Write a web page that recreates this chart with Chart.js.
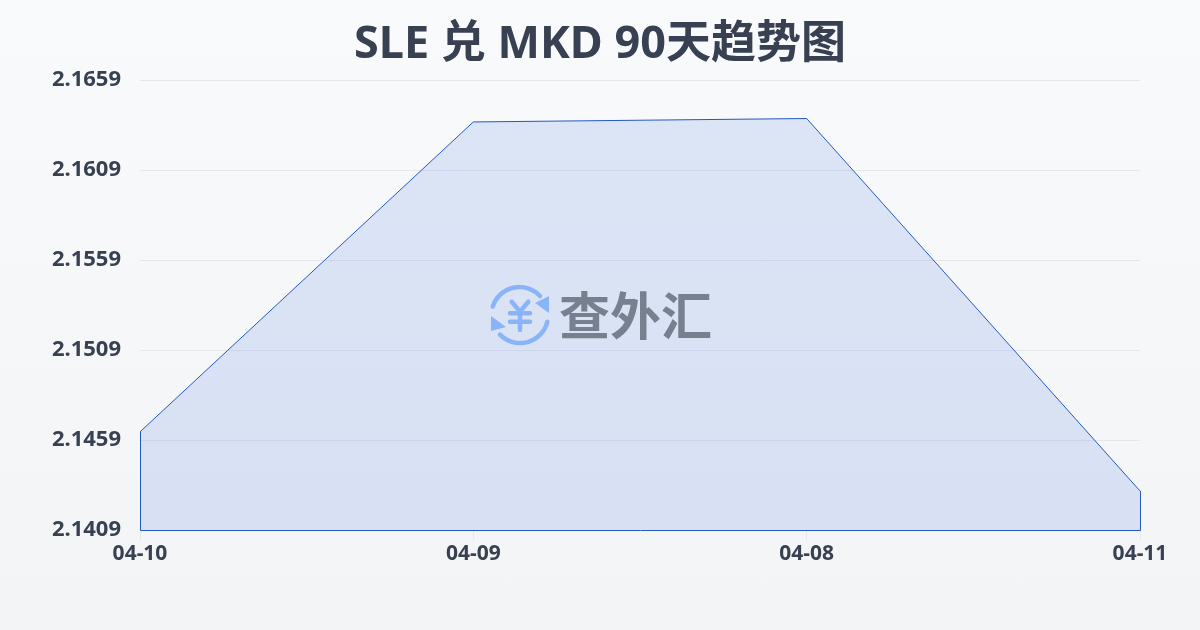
<!DOCTYPE html>
<html><head><meta charset="utf-8">
<style>
html,body{margin:0;padding:0;width:1200px;height:630px;overflow:hidden}
body{background:linear-gradient(180deg,#f9fafb 0%,#f3f4f6 100%);position:relative;font-family:"Noto Sans","Noto Sans CJK SC",sans-serif}
#c{position:absolute;left:0;top:0;width:1200px;height:630px}
#wm{position:absolute;left:488px;top:283px;width:64px;height:64px}
#wmt{position:absolute;left:559px;top:277px;font:700 51px/72px "Noto Sans CJK SC",sans-serif;color:#76808f;white-space:nowrap}
</style></head><body>
<canvas id="c" width="1200" height="630"></canvas>
<svg id="wm" viewBox="0 0 64 64">
 <g fill="none" stroke="#8ab4f8" stroke-width="4.5" stroke-linecap="round" stroke-linejoin="round">
  <path d="M4.7 23.7 A28 28 0 0 1 52 13"/>
  <path d="M59.3 38.7 A28 28 0 0 1 12 51.6"/>
  <path d="M23.7 18.7 L32 28.7 L40.3 18.7 M22 30.3 H42 M22 38.7 H42 M32 28.7 V47"/>
 </g>
 <path d="M61 13 L61 30 L47 20 Z M3 33 L3 48 L18 44 Z" fill="#8ab4f8"/>
</svg>
<div id="wmt">查外汇</div>
<script src="https://cdn.jsdelivr.net/npm/chart.js@4/dist/chart.umd.min.js"></script>
<script>
const categories = ["04-10","04-09","04-08","04-11"];
const rates = [2.14635,2.16357,2.16376,2.14307];
const yTicks = [2.1409,2.1459,2.1509,2.1559,2.1609,2.1659];
const titleText = "SLE 兑 MKD 90天趋势图";
const lineColor = "#2558c0";

const closeArea = {
  id:"closeArea",
  afterDatasetsDraw(chart){
    const pts = chart.getDatasetMeta(0).data, y0 = Math.floor(chart.scales.y.getPixelForValue(yTicks[0]))+0.5, c = chart.ctx;
    const xa = Math.floor(pts[0].x)+0.5, xb = Math.floor(pts[pts.length-1].x)+0.5;
    c.save(); c.strokeStyle = lineColor; c.lineWidth = 1; c.beginPath();
    c.moveTo(xa,pts[0].y); c.lineTo(xa,y0); c.lineTo(xb,y0); c.lineTo(xb,pts[pts.length-1].y);
    c.stroke(); c.restore();
  }
};
new Chart(document.getElementById("c"),{
  type:"line",
  data:{labels:categories,datasets:[{data:rates,borderColor:lineColor,borderWidth:1,backgroundColor:"rgba(59,111,224,0.15)",fill:"start",pointRadius:0,tension:0}]},
  plugins:[closeArea],
  options:{
    responsive:false,animation:false,devicePixelRatio:1,
    layout:{padding:0},
    plugins:{legend:{display:false},tooltip:{enabled:false},
      title:{display:true,text:titleText,color:"#374151",font:{family:'"Noto Sans","Noto Sans CJK SC",sans-serif',size:45,weight:"bold",lineHeight:1.2},padding:{top:18,bottom:8.01}}},
    scales:{
      x:{offset:false,afterFit(s){s.height=100},grid:{display:true,drawOnChartArea:false,drawTicks:true,tickLength:10,color:"#e5e7eb"},border:{display:false},
        ticks:{color:"#374151",font:{family:'"Noto Sans",sans-serif',size:21,weight:"bold"},padding:1,maxRotation:0,autoSkip:false}},
      y:{min:yTicks[0],max:yTicks[yTicks.length-1],afterFit(s){s.width=140},afterBuildTicks(s){s.ticks=yTicks.map(v=>({value:v}))},
        grid:{color:"#e5e7eb",lineWidth:1,drawTicks:false},border:{display:false},
        ticks:{color:"#374151",font:{family:'"Noto Sans",sans-serif',size:22,weight:"bold"},padding:19,callback:v=>v.toFixed(4)}},
      rightSpace:{position:"right",display:true,min:0,max:1,afterFit(s){s.width=60},grid:{display:false},border:{display:false},ticks:{display:false}}
    }
  }
});
</script>
</body></html>
